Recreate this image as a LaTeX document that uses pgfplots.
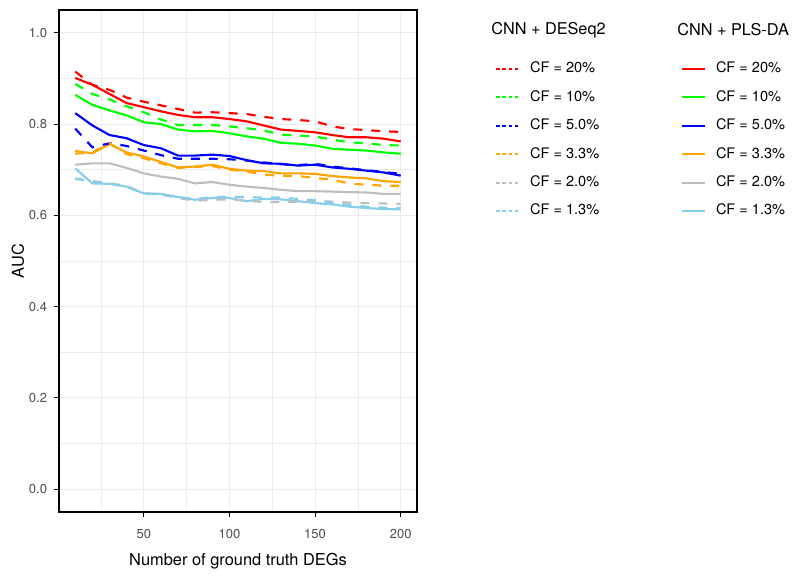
\documentclass[border=0pt]{standalone}
\usepackage{fontspec}
\setmainfont{TeX Gyre Heros}
\usepackage{pgfplots}
\usepackage{pgfplotstable}
\pgfplotsset{compat=1.18}
\definecolor{cRed}{HTML}{FF0000}
\definecolor{cGreen}{HTML}{00FF00}
\definecolor{cBlue}{HTML}{0000FF}
\definecolor{cOrange}{HTML}{FFA500}
\definecolor{cGray}{HTML}{BEBEBE}
\definecolor{cSky}{HTML}{87CEEB}
\definecolor{grid92}{HTML}{EBEBEB}
\definecolor{gray30}{HTML}{4D4D4D}

\pgfplotstableread{
x   d20  d10  d5   d33  d2   d13  p20  p10  p5   p33  p2   p13
10  .915 .888 .790 .735 .680 .681 .901 .864 .824 .741 .711 .703
20  .886 .866 .749 .738 .674 .675 .886 .842 .797 .736 .714 .670
30  .875 .854 .758 .758 .670 .670 .866 .830 .776 .756 .714 .669
40  .858 .839 .752 .734 .665 .662 .846 .819 .769 .738 .704 .663
50  .849 .826 .742 .725 .648 .648 .837 .804 .754 .729 .692 .648
60  .841 .810 .732 .714 .646 .646 .828 .800 .747 .717 .685 .647
70  .833 .798 .724 .704 .638 .640 .820 .788 .731 .705 .680 .640
80  .825 .798 .724 .706 .632 .636 .815 .784 .731 .707 .670 .634
90  .826 .798 .724 .708 .634 .640 .815 .785 .733 .711 .673 .638
100 .824 .795 .723 .700 .635 .641 .811 .780 .730 .702 .667 .638
110 .822 .791 .720 .696 .632 .640 .806 .773 .721 .698 .663 .631
120 .816 .786 .716 .689 .629 .639 .797 .768 .714 .697 .660 .636
130 .811 .777 .712 .687 .629 .639 .788 .759 .713 .692 .656 .635
140 .809 .775 .710 .686 .630 .636 .785 .757 .709 .692 .653 .631
150 .806 .773 .713 .682 .632 .633 .782 .753 .711 .691 .653 .627
160 .795 .766 .707 .678 .630 .627 .776 .746 .705 .686 .652 .624
170 .789 .760 .703 .670 .628 .623 .771 .744 .702 .683 .651 .619
180 .787 .758 .699 .667 .627 .619 .771 .742 .698 .681 .650 .616
190 .784 .754 .695 .665 .626 .617 .768 .738 .694 .675 .647 .614
200 .783 .753 .691 .665 .625 .616 .762 .735 .687 .673 .647 .613
}\auc

\begin{document}
\begin{tikzpicture}
\useasboundingbox (-44.25pt,-51pt) rectangle (555.75pt,384pt);
\begin{axis}[
  at={(0,0)}, anchor=south west,
  scale only axis, width=268.5pt, height=376.5pt,
  clip mode=individual,
  xmin=0.5, xmax=209.5, ymin=-0.05, ymax=1.05,
  xtick={50,100,150,200}, ytick={0,0.2,0.4,0.6,0.8,1},
  minor xtick={25,75,125,175}, minor ytick={0.1,0.3,0.5,0.7,0.9},
  grid=both,
  major grid style={grid92, line width=0.8pt},
  minor grid style={grid92, line width=0.45pt},
  axis line style={black, line width=1.1pt},
  tick align=outside, tick pos=left,
  major tick length=3.4pt, minor tick length=0pt,
  major tick style={black, line width=0.8pt},
  /pgf/number format/assume math mode=true,
  yticklabel style={/pgf/number format/fixed, /pgf/number format/fixed zerofill, /pgf/number format/precision=1,
     font=\fontsize{9.75}{11}\selectfont, text=gray30, anchor=east, inner sep=0pt, xshift=-5.4pt},
  xticklabel style={font=\fontsize{9.75}{11}\selectfont, text=gray30, anchor=north, inner sep=0pt, yshift=-9.5pt},
  xlabel={Number of ground truth DEGs}, ylabel={AUC},
  label style={font=\fontsize{12.3}{14}\selectfont},
  xlabel style={at={(axis description cs:0.5,-0.0976)}, anchor=center},
  ylabel style={at={(axis description cs:-0.1145,0.5)}, anchor=center},
  legend columns=2,
  legend cell align=left,
  legend style={at={(1.2179,0.8958)}, anchor=north west, draw=none, fill=none,
     inner sep=0pt, outer sep=0pt, font=\fontsize{10.9}{12}\selectfont, row sep=11.3pt,
     nodes={inner sep=0pt, text height=8pt, text depth=2pt},
     /tikz/every odd column/.append style={column sep=7.5pt},
     /tikz/every even column/.append style={column sep=61.25pt}},
  legend image code/.code={\draw[#1] (0pt,0pt) -- (17.25pt,0pt);},
]
% PLS-DA (solid)
\addplot[cRed, line width=1.6pt, forget plot] table[x=x,y=p20]{\auc};
\addplot[cGreen, line width=1.6pt, forget plot] table[x=x,y=p10]{\auc};
\addplot[cBlue, line width=1.6pt, forget plot] table[x=x,y=p5]{\auc};
\addplot[cOrange, line width=1.6pt, forget plot] table[x=x,y=p33]{\auc};
\addplot[cGray, line width=1.6pt, forget plot] table[x=x,y=p2]{\auc};
\addplot[cSky, line width=1.6pt, forget plot] table[x=x,y=p13]{\auc};
% DESeq2 (dashed)
\addplot[cRed, line width=1.6pt, dash pattern=on 6.75pt off 6.75pt, forget plot] table[x=x,y=d20]{\auc};
\addplot[cGreen, line width=1.6pt, dash pattern=on 6.75pt off 6.75pt, forget plot] table[x=x,y=d10]{\auc};
\addplot[cBlue, line width=1.6pt, dash pattern=on 6.75pt off 6.75pt, forget plot] table[x=x,y=d5]{\auc};
\addplot[cOrange, line width=1.6pt, dash pattern=on 6.75pt off 6.75pt, forget plot] table[x=x,y=d33]{\auc};
\addplot[cGray, line width=1.6pt, dash pattern=on 6.75pt off 6.75pt, forget plot] table[x=x,y=d2]{\auc};
\addplot[cSky, line width=1.6pt, dash pattern=on 6.75pt off 6.75pt, forget plot] table[x=x,y=d13]{\auc};

\addlegendimage{cRed, line width=1.6pt, dash pattern=on 2.6pt off 2.1pt}
\addlegendentry{CF = 20\%}
\addlegendimage{cRed, line width=1.6pt}
\addlegendentry{CF = 20\%}
\addlegendimage{cGreen, line width=1.6pt, dash pattern=on 2.6pt off 2.1pt}
\addlegendentry{CF = 10\%}
\addlegendimage{cGreen, line width=1.6pt}
\addlegendentry{CF = 10\%}
\addlegendimage{cBlue, line width=1.6pt, dash pattern=on 2.6pt off 2.1pt}
\addlegendentry{CF = 5.0\%}
\addlegendimage{cBlue, line width=1.6pt}
\addlegendentry{CF = 5.0\%}
\addlegendimage{cOrange, line width=1.6pt, dash pattern=on 2.6pt off 2.1pt}
\addlegendentry{CF = 3.3\%}
\addlegendimage{cOrange, line width=1.6pt}
\addlegendentry{CF = 3.3\%}
\addlegendimage{cGray, line width=1.6pt, dash pattern=on 2.6pt off 2.1pt}
\addlegendentry{CF = 2.0\%}
\addlegendimage{cGray, line width=1.6pt}
\addlegendentry{CF = 2.0\%}
\addlegendimage{cSky, line width=1.6pt, dash pattern=on 2.6pt off 2.1pt}
\addlegendentry{CF = 1.3\%}
\addlegendimage{cSky, line width=1.6pt}
\addlegendentry{CF = 1.3\%}

\node[anchor=west, inner sep=0pt, font=\fontsize{12.2}{14}\selectfont] at (axis description cs:1.2067,0.960) {CNN + DESeq2};
\node[anchor=west, inner sep=0pt, font=\fontsize{12.2}{14}\selectfont] at (axis description cs:1.7263,0.960) {CNN + PLS-DA};
\end{axis}
\end{tikzpicture}
\end{document}
